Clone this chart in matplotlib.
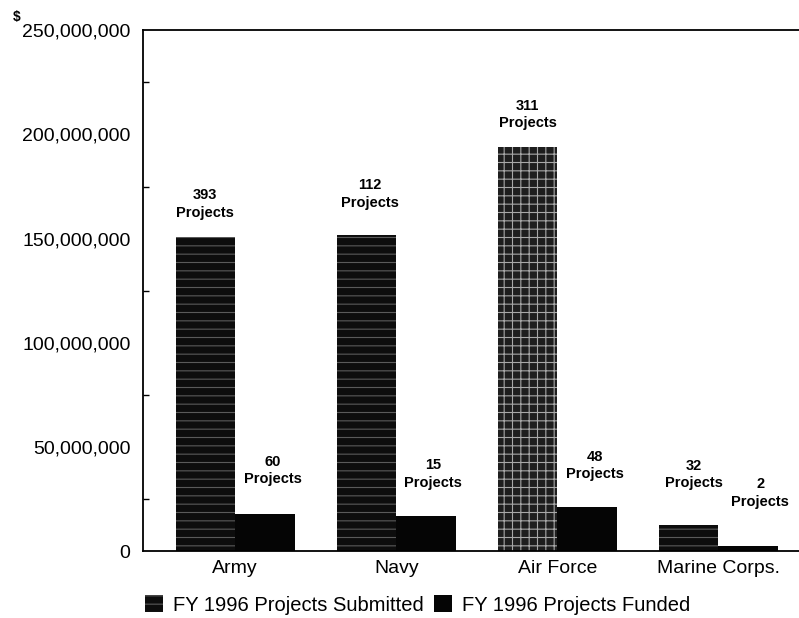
import matplotlib
matplotlib.use("Agg")
import matplotlib.pyplot as plt
import numpy as np
from matplotlib.ticker import FuncFormatter, MultipleLocator
from matplotlib.patches import Patch

categories = ["Army", "Navy", "Air Force", "Marine Corps."]
submitted = [151_000_000, 152_000_000, 194_000_000, 12_500_000]
funded = [17_700_000, 17_100_000, 21_100_000, 2_700_000]
submitted_counts = [393, 112, 311, 32]
funded_counts = [60, 15, 48, 2]
legend_labels = ["FY 1996 Projects Submitted", "FY 1996 Projects Funded"]

plt.rcParams['font.family'] = ['Liberation Sans', 'DejaVu Sans']
plt.rcParams['hatch.linewidth'] = 0.8

fig = plt.figure(figsize=(7.99, 6.18), dpi=100)
ax = fig.add_axes([0.179, 0.108, 0.821, 0.843])

x = np.arange(len(categories))
w = 0.37
sub_bars = ax.bar(x - w / 2, submitted, w, color='#0d0d0d', edgecolor='#5a5a5a',
                  hatch='--', linewidth=0)
fun_bars = ax.bar(x + w / 2, funded, w, color='#050505', linewidth=0)
# Air Force submitted bar is lighter / checkered in the reference
sub_bars[2].set_facecolor('#1e1e1e')
sub_bars[2].set_edgecolor('#a8a8a8')
sub_bars[2].set_hatch('++')

ax.set_xlim(-0.572, 3.5)
ax.set_ylim(0, 250_000_000)
ax.yaxis.set_major_locator(MultipleLocator(50_000_000))
ax.yaxis.set_minor_locator(MultipleLocator(25_000_000))
ax.yaxis.set_major_formatter(FuncFormatter(lambda v, p: f"{int(v):,}"))
ax.tick_params(axis='y', which='major', length=0, pad=9, labelsize=14)
ax.tick_params(axis='y', which='minor', length=4.5, direction='in', width=1)
ax.set_xticks(x)
ax.set_xticklabels(categories, fontsize=14)
ax.tick_params(axis='x', length=0, pad=6)
ax.spines['right'].set_visible(False)
for s in ['left', 'top', 'bottom']:
    ax.spines[s].set_linewidth(1.3)

sub_off = [(0, 17), (3, 25), (0, 17), (5, 35)]
fun_off = [(8, 28), (7, 26), (8, 26), (12, 37)]
for i in range(len(categories)):
    ax.annotate(f"{submitted_counts[i]}\nProjects", (x[i] - w / 2, submitted[i]),
                xytext=sub_off[i], textcoords='offset pixels', ha='center', va='bottom',
                fontsize=10.5, fontweight='bold', linespacing=1.3)
    ax.annotate(f"{funded_counts[i]}\nProjects", (x[i] + w / 2, funded[i]),
                xytext=fun_off[i], textcoords='offset pixels', ha='center', va='bottom',
                fontsize=10.5, fontweight='bold', linespacing=1.3)

fig.text(13 / 799, 1 - 17 / 618, "$", fontsize=10, fontweight='bold', ha='left', va='center')

handles = [Patch(facecolor='#0d0d0d', edgecolor='#5a5a5a', hatch='--', linewidth=0),
           Patch(facecolor='#050505', linewidth=0)]
fig.legend(handles, legend_labels, loc='center', bbox_to_anchor=(418 / 799, 1 - 605 / 618),
           ncol=2, frameon=False, fontsize=14.5, handlelength=0.9, handleheight=0.9,
           handletextpad=0.5, columnspacing=0.5)

fig.savefig("out.png", dpi=100)
